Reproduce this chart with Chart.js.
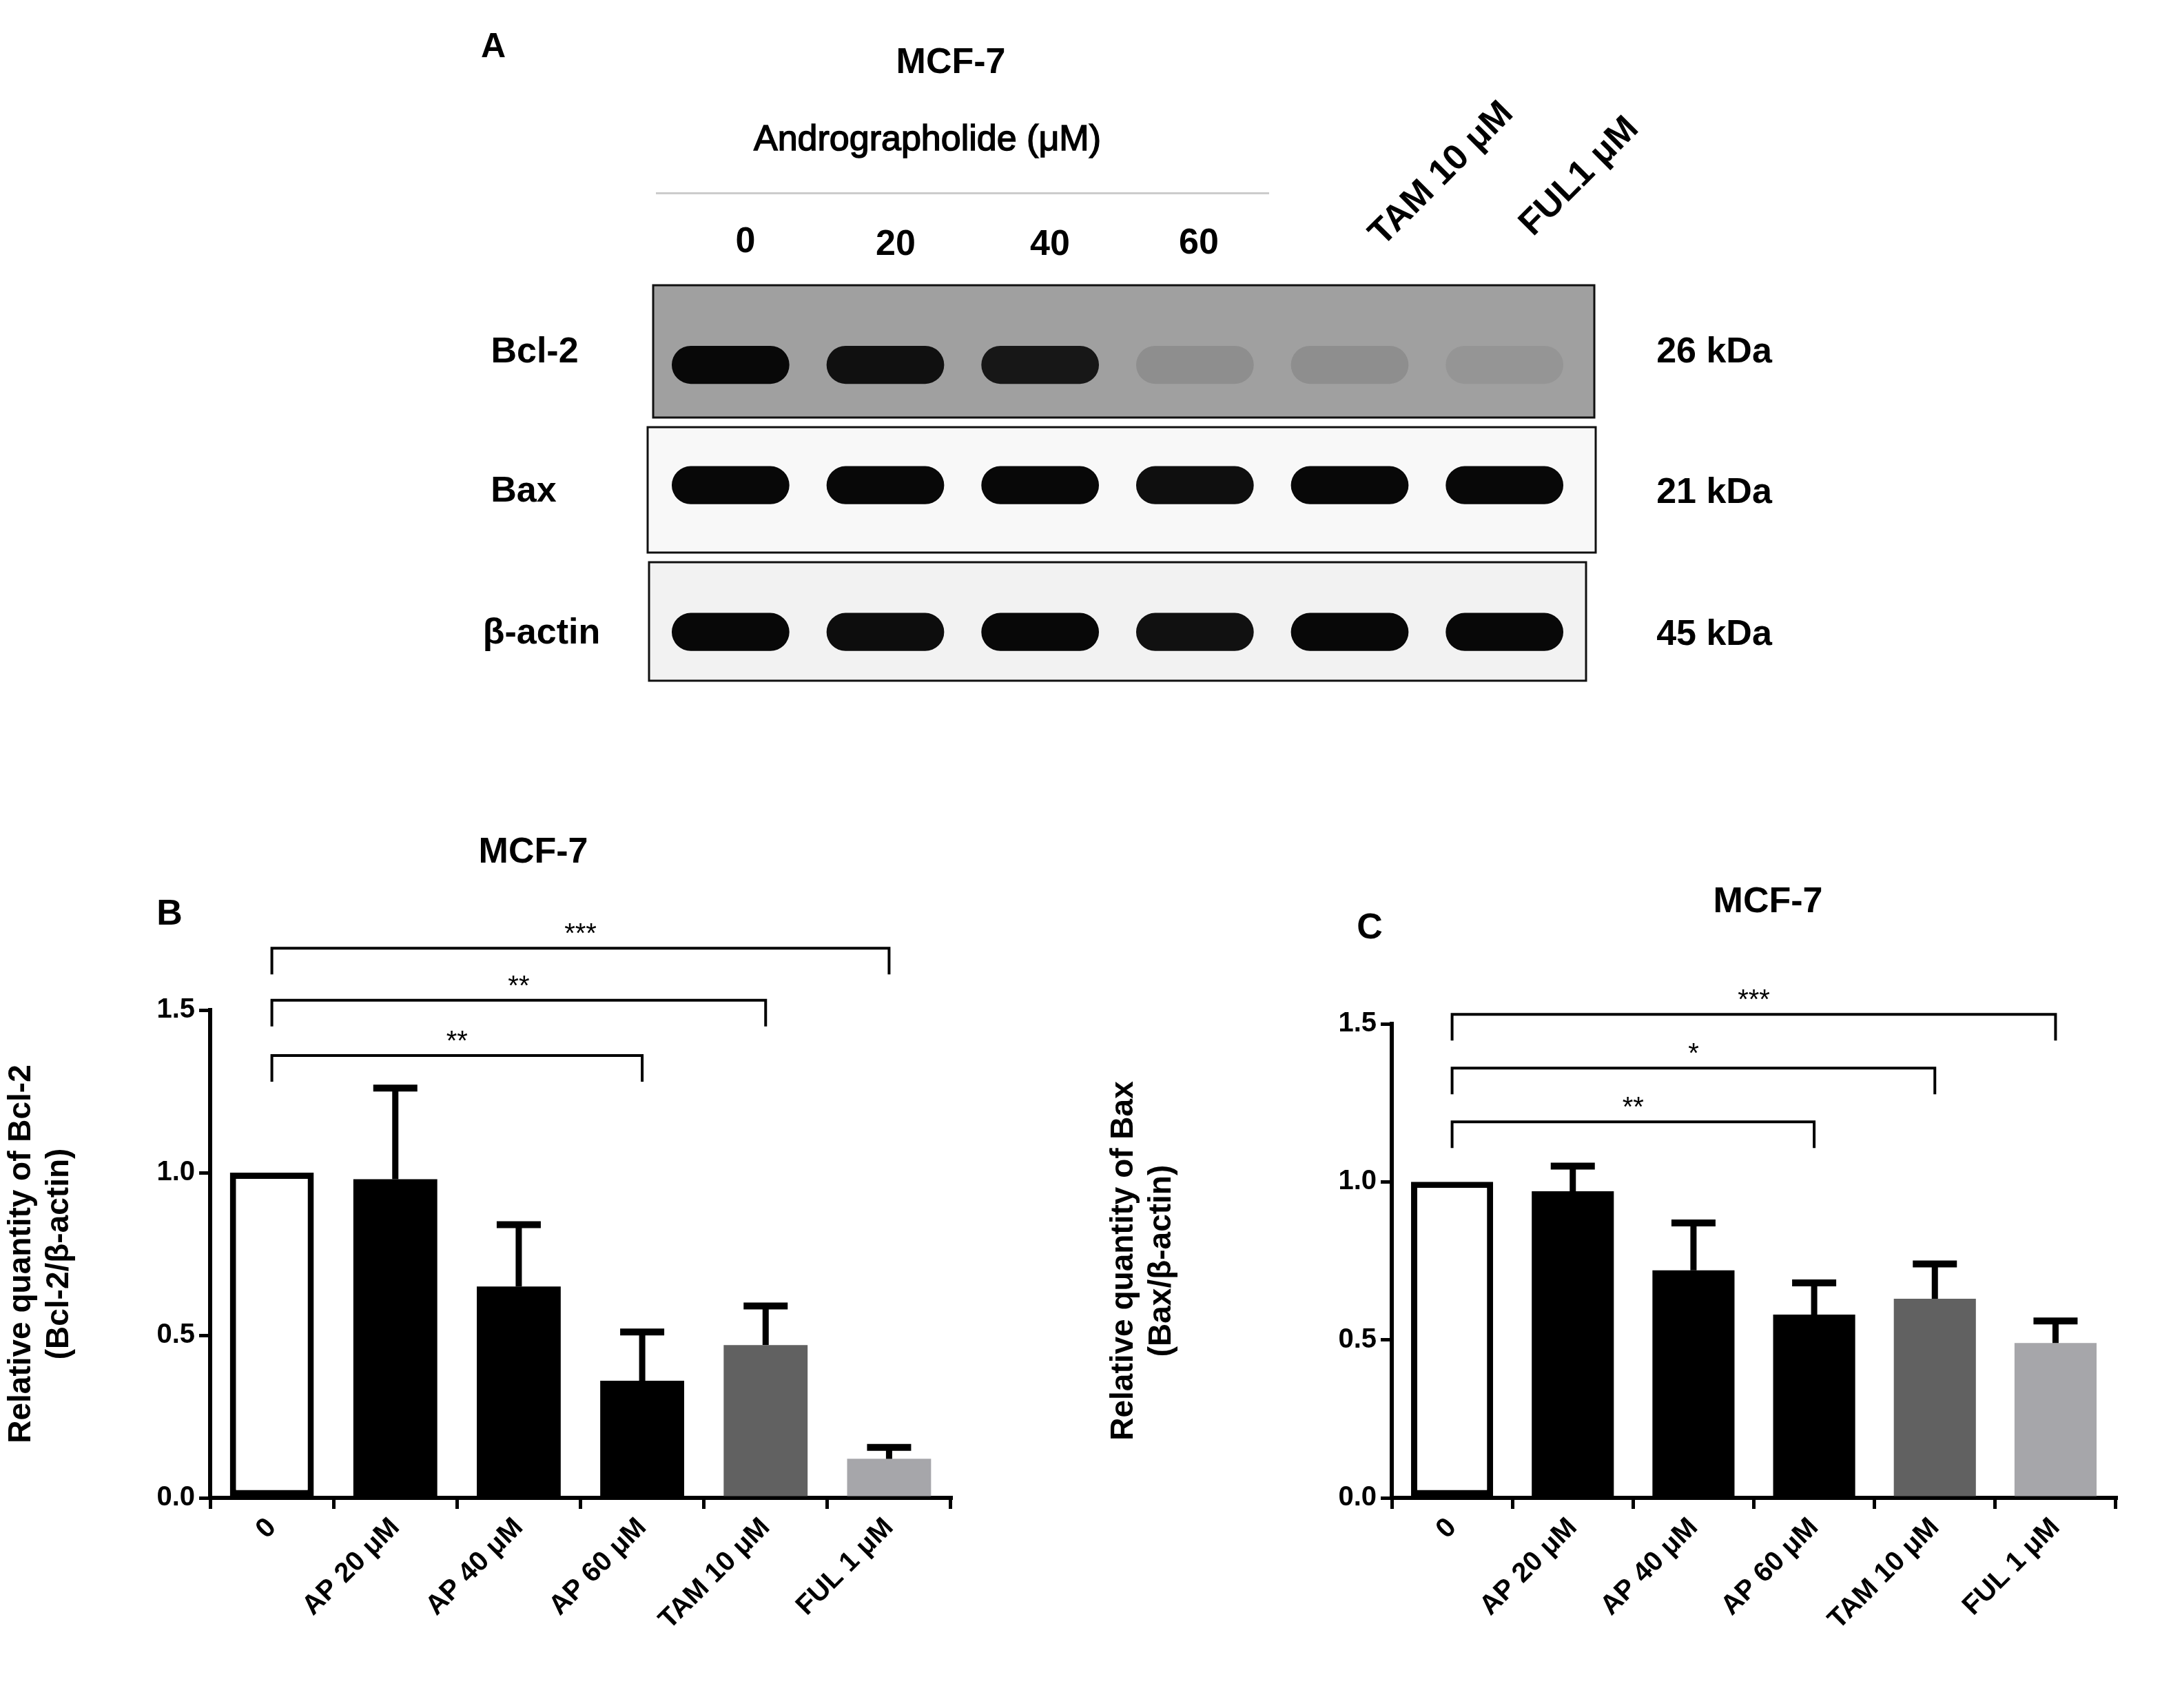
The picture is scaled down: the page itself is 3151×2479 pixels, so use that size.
<!DOCTYPE html>
<html><head><meta charset="utf-8">
<script src="https://cdn.jsdelivr.net/npm/chart.js@4"></script>
<style>
body{margin:0;background:#fff;width:3151px;height:2479px;position:relative;overflow:hidden;font-family:"Liberation Sans",Arial,sans-serif;font-weight:bold;color:#000}
.t{position:absolute;white-space:nowrap;transform:translate(-50%,-50%)}
canvas{position:absolute}
</style></head><body>
<div id="wrapA" style="position:absolute;left:930px;top:400px;width:1390px;height:600px"><canvas id="cA"></canvas></div>
<div id="wrapB" style="position:absolute;left:0;top:1150px;width:1420px;height:1329px"><canvas id="cB"></canvas></div>
<div id="wrapC" style="position:absolute;left:1600px;top:1150px;width:1551px;height:1329px"><canvas id="cC"></canvas></div>
<div class="t" style="left:716px;top:66px;font-size:50px">A</div>
<div class="t" style="left:1380px;top:88px;font-size:52px">MCF-7</div>
<div class="t" style="left:1346px;top:200px;font-size:52px;font-weight:normal;-webkit-text-stroke:1.5px #000">Andrographolide (μM)</div>
<div style="position:absolute;left:952px;top:279px;width:890px;height:3px;background:#ccc"></div>
<div class="t" style="left:1082px;top:348px;font-size:52px">0</div>
<div class="t" style="left:1300px;top:352px;font-size:52px">20</div>
<div class="t" style="left:1524px;top:352px;font-size:52px">40</div>
<div class="t" style="left:1740px;top:350px;font-size:52px">60</div>
<div class="t" style="left:2090px;top:250px;font-size:52px;transform:translate(-50%,-50%) rotate(-45deg)">TAM 10 μM</div>
<div class="t" style="left:2290px;top:254px;font-size:52px;transform:translate(-50%,-50%) rotate(-45deg)">FUL1 μM</div>
<div class="t" style="left:776px;top:508px;font-size:52px">Bcl-2</div>
<div class="t" style="left:760px;top:710px;font-size:52px">Bax</div>
<div class="t" style="left:786px;top:916px;font-size:52px">β-actin</div>
<div class="t" style="left:2488px;top:508px;font-size:52px">26 kDa</div>
<div class="t" style="left:2488px;top:712px;font-size:52px">21 kDa</div>
<div class="t" style="left:2488px;top:918px;font-size:52px">45 kDa</div>
<div class="t" style="left:774px;top:1234px;font-size:52px">MCF-7</div>
<div class="t" style="left:246px;top:1324px;font-size:52px">B</div>
<div class="t" style="left:2566px;top:1306px;font-size:52px">MCF-7</div>
<div class="t" style="left:1988px;top:1344px;font-size:52px">C</div>
<script>
// ---- Data ----
const laneLabels = ["0","20","40","60","TAM 10 μM","FUL1 μM"];
const bcl2Band = [1.0, 0.95, 0.9, 0.12, 0.12, 0.07];
const baxBand = [1.0, 1.0, 1.0, 0.97, 1.0, 1.0];
const actinBand = [1.0, 0.98, 1.0, 0.96, 1.0, 1.0];

const categories = ["0","AP 20 μM","AP 40 μM","AP 60 μM","TAM 10 μM","FUL 1 μM"];
const bcl2Mean = [1.0, 0.98, 0.65, 0.36, 0.47, 0.12];
const bcl2Err  = [0, 0.28, 0.19, 0.15, 0.12, 0.035];
const baxMean  = [1.0, 0.97, 0.72, 0.58, 0.63, 0.49];
const baxErr   = [0, 0.08, 0.15, 0.10, 0.11, 0.07];
const bcl2Sig = [{to:3,label:"**",y:1.36},{to:4,label:"**",y:1.53},{to:5,label:"***",y:1.69}];
const baxSig  = [{to:3,label:"**",y:1.19},{to:4,label:"*",y:1.36},{to:5,label:"***",y:1.53}];
const yTicks = [0,0.5,1.0,1.5];

const barColors=['#ffffff','#000000','#000000','#000000','#616161','#a6a6aa'];

// ---- Panel A (blot) ----
function shade(bg,i){const v=Math.round(bg*(1-i)+8*i);return `rgb(${v},${v},${v})`;}
const rows=[{c:78.4,vals:bcl2Band,bg:160},{c:49.3,vals:baxBand,bg:245},{c:13.8,vals:actinBand,bg:240}];
const boxPlugin={id:'boxes',beforeDatasetsDraw(ch){
  const {ctx,chartArea:a,scales:{y}}=ch;
  const boxes=[[414,606,160,18,1366],[620,802,248,10,1376],[816,988,242,12,1360]];
  ctx.save();
  boxes.forEach(b=>{const top=b[0]-400,bot=b[1]-400;ctx.fillStyle=`rgb(${b[2]},${b[2]},${b[2]})`;
    ctx.fillRect(b[3],top,b[4],bot-top);ctx.strokeStyle='#111';ctx.lineWidth=3;ctx.strokeRect(b[3],top,b[4],bot-top);});
  ctx.restore();}};
new Chart(document.getElementById('cA'),{type:'bar',
 data:{labels:laneLabels,datasets:rows.map(r=>({data:r.vals.map(()=>[r.c-4.6,r.c+4.6]),
   backgroundColor:r.vals.map(v=>shade(r.bg,v)),borderRadius:30,borderSkipped:false,barPercentage:0.76,categoryPercentage:1,grouped:false}))},
 options:{responsive:true,maintainAspectRatio:false,animation:false,events:[],
  layout:{padding:{left:18,right:24,top:0,bottom:0}},
  plugins:{legend:{display:false},tooltip:{enabled:false}},
  scales:{x:{display:false},y:{display:false,min:0,max:100}}},plugins:[boxPlugin]});

// ---- Bar panels ----
function annot(errs,sig){return {id:'annot',afterDatasetsDraw(ch){
  const {ctx,scales:{x,y}}=ch;ctx.save();ctx.strokeStyle='#000';ctx.lineCap='butt';
  const meta=ch.getDatasetMeta(0);
  meta.data.forEach((bar,i)=>{const e=errs[i];if(!e)return;const m=ch.data.datasets[0].data[i];
    const xc=bar.x,y0=y.getPixelForValue(m),y1=y.getPixelForValue(m+e);
    ctx.lineWidth=9;ctx.beginPath();ctx.moveTo(xc,y0);ctx.lineTo(xc,y1);ctx.stroke();
    ctx.lineWidth=10;ctx.beginPath();ctx.moveTo(xc-32,y1);ctx.lineTo(xc+32,y1);ctx.stroke();});
  ctx.lineWidth=4;ctx.fillStyle='#000';ctx.font='40px "Liberation Sans"';ctx.textAlign='center';
  sig.forEach(s=>{const x0=x.getPixelForValue(0),x1=x.getPixelForValue(s.to),yy=y.getPixelForValue(s.y),d=38;
    ctx.beginPath();ctx.moveTo(x0,yy+d);ctx.lineTo(x0,yy);ctx.lineTo(x1,yy);ctx.lineTo(x1,yy+d);ctx.stroke();
    ctx.fillText(s.label,(x0+x1)/2,yy-8);});
  ctx.restore();}};}
function barChart(id,mean,errs,sig,title,ylw,padTop,padRight){
 new Chart(document.getElementById(id),{type:'bar',
  data:{labels:categories,datasets:[{data:mean,backgroundColor:barColors,borderColor:'#000',
    borderWidth:[9,0,0,0,0,0],borderSkipped:false,barPercentage:0.68,categoryPercentage:1}]},
  options:{responsive:true,maintainAspectRatio:false,animation:false,events:[],
   layout:{padding:{top:padTop,right:padRight,left:0,bottom:0}},
   plugins:{legend:{display:false},tooltip:{enabled:false}},
   scales:{
    x:{grid:{drawOnChartArea:false,drawTicks:true,tickLength:16,color:'#000',lineWidth:5},
       border:{color:'#000',width:6},
       ticks:{color:'#000',font:{family:'Liberation Sans',weight:'bold',size:40},minRotation:45,maxRotation:45,padding:4},
       afterFit(s){s.height=305;}},
    y:{min:0,max:1.5,afterBuildTicks(s){s.ticks=yTicks.map(v=>({value:v}));},
       grid:{drawOnChartArea:false,drawTicks:true,tickLength:16,color:'#000',lineWidth:5},
       border:{color:'#000',width:6},
       ticks:{color:'#000',font:{family:'Liberation Sans',weight:'bold',size:40},padding:6,callback:v=>v.toFixed(1)},
       title:{display:true,text:title,color:'#000',font:{family:'Liberation Sans',weight:'bold',size:46},padding:{bottom:10},lineHeight:1.15},
       afterFit(s){s.width=ylw;}}}},
  plugins:[annot(errs,sig)]});}
barChart('cB',bcl2Mean,bcl2Err,bcl2Sig,["Relative quantity of Bcl-2","(Bcl-2/β-actin)"],305,316,40);
barChart('cC',baxMean,baxErr,baxSig,["Relative quantity of Bax","(Bax/β-actin)"],420,336,80);
</script></body></html>
